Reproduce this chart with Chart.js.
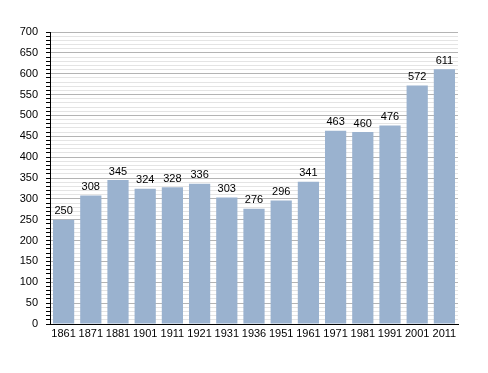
<!DOCTYPE html>
<html><head><meta charset="utf-8">
<script src="https://cdn.jsdelivr.net/npm/chart.js@4/dist/chart.umd.min.js"></script>
<style>html,body{margin:0;padding:0;background:#fff}#wrap{width:488px;height:373px}</style>
</head><body><div id="wrap"><canvas id="c" width="488" height="373"></canvas></div>
<script>
const years = ["1861","1871","1881","1901","1911","1921","1931","1936","1951","1961","1971","1981","1991","2001","2011"];
const population = [250,308,345,324,328,336,303,276,296,341,463,460,476,572,611];
const yMin = 0, yMax = 700, yStep = 10, yLabelStep = 50;

const labelPlugin = {
  id: 'vals',
  afterDatasetsDraw(chart) {
    const ctx = chart.ctx;
    const meta = chart.getDatasetMeta(0);
    ctx.save();
    ctx.font = '11px "Liberation Sans", Arial, sans-serif';
    ctx.fillStyle = '#000';
    ctx.textAlign = 'center';
    ctx.textBaseline = 'bottom';
    meta.data.forEach((b, i) => {
      ctx.fillText(String(population[i]), b.x, b.y - 3);
    });
    ctx.restore();
  }
};

new Chart(document.getElementById('c'), {
  type: 'bar',
  data: { labels: years, datasets: [{ data: population, backgroundColor: 'rgb(154,178,207)', borderWidth: 0, barPercentage: 0.78, categoryPercentage: 1 }] },
  options: {
    responsive: false, animation: false,
    layout: { padding: { left: 0, right: 30, top: 32, bottom: 29 } },
    plugins: { legend: { display: false }, tooltip: { enabled: false } },
    scales: {
      x: {
        grid: { display: false, drawTicks: false },
        border: { color: '#000', width: 1 },
        ticks: { color: '#000', font: { family: '"Liberation Sans", Arial, sans-serif', size: 11 }, padding: 3, maxRotation: 0, autoSkip: false },
        afterFit: s => { s.height = 20; }
      },
      y: {
        min: yMin, max: yMax,
        grid: {
          color: c => (c.tick && c.tick.value % yLabelStep === 0) ? '#b4b4b4' : '#e4e4e4',
          tickColor: '#000', tickLength: 4, drawTicks: true
        },
        border: { color: '#000', width: 1 },
        ticks: {
          stepSize: yStep, autoSkip: false, color: '#000', padding: 8,
          font: { family: '"Liberation Sans", Arial, sans-serif', size: 11 },
          callback: v => (v % yLabelStep === 0 ? String(v) : '')
        },
        afterFit: s => { s.width = 50; }
      }
    }
  },
  plugins: [labelPlugin]
});
</script></body></html>
